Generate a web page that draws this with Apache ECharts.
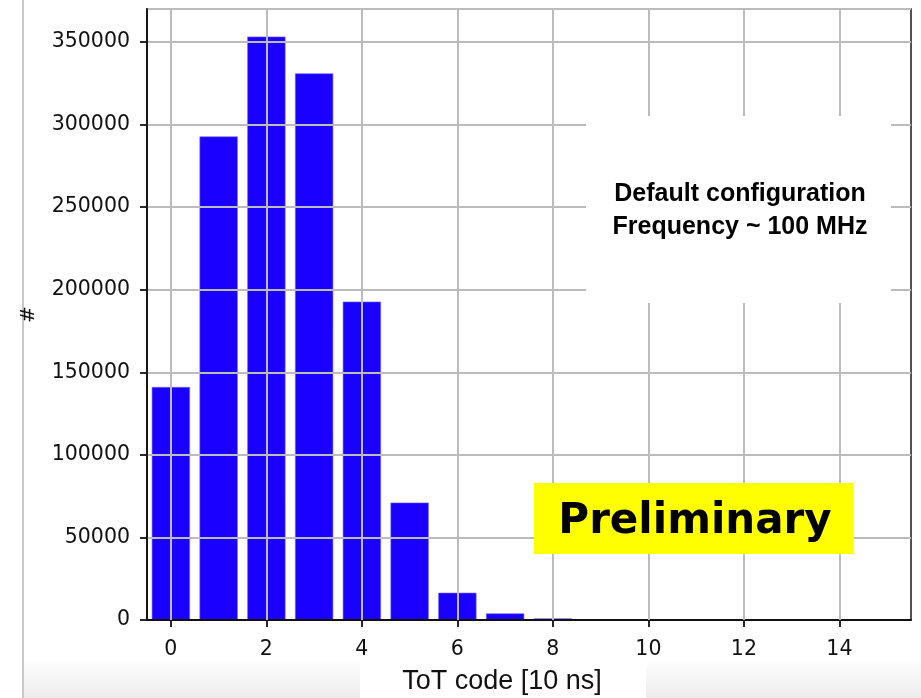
<!DOCTYPE html>
<html>
<head>
<meta charset="utf-8">
<script src="https://cdn.jsdelivr.net/npm/echarts@6/dist/echarts.min.js"></script>
<style>
html,body{margin:0;padding:0;background:#fff;}
#chart{width:921px;height:698px;}
</style>
</head>
<body>
<div id="chart"></div>
<script>
// ---- data ----
const categories = ['0','1','2','3','4','5','6','7','8','9','10','11','12','13','14','15'];
const counts = [141100, 292800, 353300, 331000, 192800, 71100, 16500, 4000, 1000, 150, 0, 0, 0, 0, 0, 0];
const xGridValues = ['0','2','4','6','8','10','12','14'];
const yMax = 370000;
const yStep = 50000;
const xTitle = 'ToT code [10 ns]';
const yTitle = '#';
const noteLines = ['Default configuration', 'Frequency ~ 100 MHz'];
const stampText = 'Preliminary';

const chart = echarts.init(document.getElementById('chart'), null, {renderer: 'canvas'});
const gridColor = '#bcbcbc';
const labelFont = 'DejaVu Sans';

const option = {
  animation: false,
  backgroundColor: '#ffffff',
  grid: {
    left: 147, right: 10, top: 9, bottom: 78,
    show: true, borderColor: '#1a1a1a', borderWidth: 1.5, backgroundColor: 'transparent'
  },
  xAxis: {
    type: 'category',
    data: categories,
    boundaryGap: true,
    z: 3,
    axisLine: {show: true, lineStyle: {color: '#111', width: 1.8}},
    axisTick: {show: true, interval: 1, alignWithLabel: true, length: 7, lineStyle: {color: '#111', width: 1.8}},
    axisLabel: {interval: 1, margin: 19, fontFamily: labelFont, fontSize: 20.5, color: '#111'},
    splitLine: {show: false}
  },
  yAxis: {
    type: 'value',
    min: 0, max: yMax, interval: yStep,
    z: 3,
    name: yTitle,
    nameLocation: 'middle',
    nameGap: 108,
    nameRotate: 90,
    nameTextStyle: {fontFamily: labelFont, fontSize: 20, color: '#111'},
    axisLine: {show: true, lineStyle: {color: '#111', width: 1.8}},
    axisTick: {show: true, length: 7, lineStyle: {color: '#111', width: 1.8}},
    axisLabel: {margin: 17, showMaxLabel: false, fontFamily: labelFont, fontSize: 20.5, color: '#111',
      formatter: v => String(v)},
    splitLine: {show: true, lineStyle: {color: gridColor, width: 2}}
  },
  series: [{
    type: 'bar',
    data: counts,
    barWidth: '80%',
    z: 2,
    itemStyle: {color: '#1a00ff', borderColor: '#6f66ff', borderWidth: 0.6},
    markLine: {
      silent: true,
      symbol: ['none', 'none'],
      z: 5,
      label: {show: false},
      emphasis: {disabled: true},
      lineStyle: {type: 'solid', color: gridColor, width: 2},
      data: xGridValues.map(v => ({xAxis: v}))
    }
  }],
  graphic: [
    // slide artifacts
    {type: 'rect', z: 1, silent: true, shape: {x: 23, y: 662, width: 898, height: 36},
     style: {fill: new echarts.graphic.LinearGradient(0, 0, 0, 1, [{offset: 0, color: '#fdfdfd'}, {offset: 1, color: '#ececec'}])}},
    {type: 'rect', z: 2, silent: true, shape: {x: 360, y: 662, width: 286, height: 36}, style: {fill: '#ffffff'}},
    {type: 'line', z: 2, silent: true, shape: {x1: 23, y1: 0, x2: 23, y2: 698}, style: {stroke: '#c8c8c8', lineWidth: 2}},
    {type: 'text', z: 20, silent: true, x: 502, y: 682,
     style: {text: xTitle, font: '27px "Liberation Sans"', fill: '#111', align: 'center', verticalAlign: 'middle'}},
    // note box
    {type: 'rect', z: 50, silent: true, shape: {x: 586, y: 116, width: 305, height: 187}, style: {fill: '#ffffff'}},
    {type: 'text', z: 51, silent: true, x: 740, y: 194,
     style: {text: noteLines[0], font: 'bold 25px "Liberation Sans"', fill: '#000', align: 'center', verticalAlign: 'middle'}},
    {type: 'text', z: 51, silent: true, x: 740, y: 227,
     style: {text: noteLines[1], font: 'bold 25px "Liberation Sans"', fill: '#000', align: 'center', verticalAlign: 'middle'}},
    // preliminary stamp
    {type: 'rect', z: 50, silent: true, shape: {x: 534, y: 483, width: 320, height: 71}, style: {fill: '#ffff00'}},
    {type: 'text', z: 51, silent: true, x: 695, y: 522,
     style: {text: stampText, font: 'bold 42px "DejaVu Sans"', fill: '#000', align: 'center', verticalAlign: 'middle'}}
  ]
};
chart.setOption(option);
</script>
</body>
</html>
